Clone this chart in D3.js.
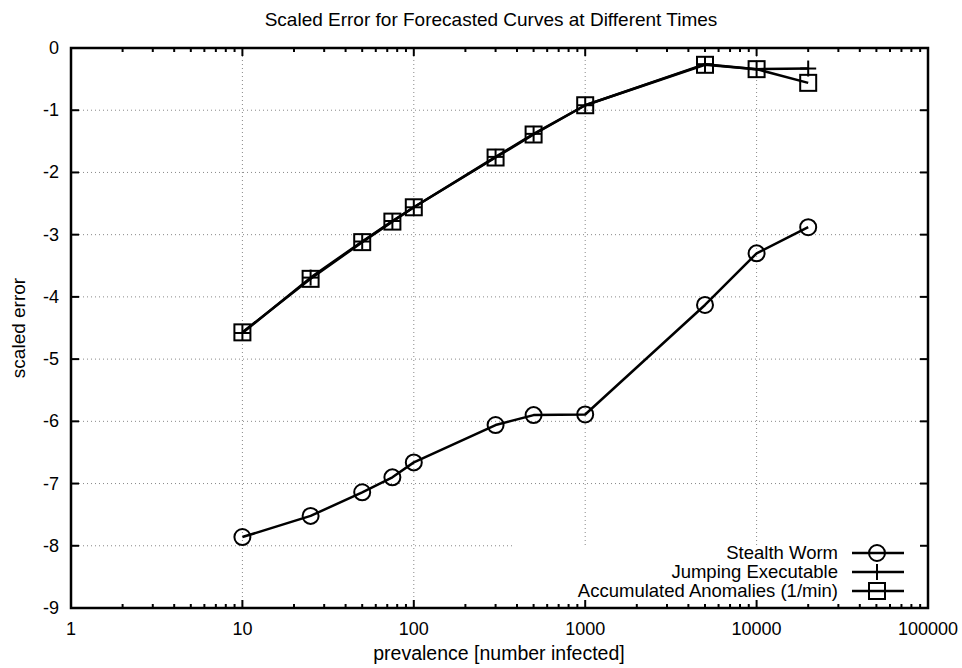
<!DOCTYPE html>
<html>
<head>
<meta charset="utf-8">
<script src="https://cdn.jsdelivr.net/npm/d3@7"></script>
<style>
  body { margin: 0; background: #fff; }
  text { font-family: "Liberation Sans", Arial, sans-serif; }
</style>
</head>
<body>
<div id="chart"></div>
<script>
// data
var prevalence = [10, 25, 50, 75, 100, 300, 500, 1000, 5000, 10000, 20000];
var stealthWorm = [-7.86, -7.52, -7.14, -6.90, -6.66, -6.06, -5.90, -5.89, -4.13, -3.30, -2.88];
var jumpingExec = [-4.58, -3.69, -3.11, -2.78, -2.56, -1.75, -1.38, -0.92, -0.26, -0.34, -0.33];
var accumAnom = [-4.57, -3.71, -3.12, -2.79, -2.56, -1.76, -1.39, -0.92, -0.27, -0.34, -0.56];
var xTicks = [1, 10, 100, 1000, 10000, 100000];
var yTicks = [0, -1, -2, -3, -4, -5, -6, -7, -8, -9];
var seriesNames = ["Stealth Worm", "Jumping Executable", "Accumulated Anomalies (1/min)"];

var W = 962, H = 668;
var margin = {top: 48, right: 34, bottom: 60, left: 71},
    width = W - margin.left - margin.right,
    height = H - margin.top - margin.bottom;

var svg = d3.select("#chart").append("svg")
    .attr("width", W).attr("height", H);
var g = svg.append("g")
    .attr("transform", "translate(" + margin.left + "," + margin.top + ")");

var x = d3.scaleLog().domain([1, 100000]).range([0, width]);
var y = d3.scaleLinear().domain([-9, 0]).range([height, 0]);

// grid (dotted)
var grid = g.append("g").attr("stroke", "#888").attr("stroke-width", 1)
    .attr("stroke-dasharray", "1,3");
xTicks.slice(1, -1).forEach(function(t) {
  grid.append("line").attr("x1", x(t)).attr("x2", x(t))
      .attr("y1", 0).attr("y2", height);
});
yTicks.slice(1, -1).forEach(function(t) {
  grid.append("line").attr("x1", 0).attr("x2", width)
      .attr("y1", y(t)).attr("y2", y(t));
});

// key area is blanked like gnuplot does
var keyLeft = 442, keyTop = 497;
g.append("rect").attr("x", keyLeft).attr("y", keyTop)
  .attr("width", width - keyLeft).attr("height", height - keyTop)
  .attr("fill", "#fff");

// ticks on all four sides
var ticks = g.append("g").attr("stroke", "#000").attr("stroke-width", 2);
var minor = [];
for (var d = 1; d < 100000; d *= 10) {
  for (var k = 2; k <= 9; k++) minor.push(d * k);
}
xTicks.forEach(function(t) {
  ticks.append("line").attr("x1", x(t)).attr("x2", x(t)).attr("y1", height).attr("y2", height - 8);
  ticks.append("line").attr("x1", x(t)).attr("x2", x(t)).attr("y1", 0).attr("y2", 8);
});
minor.forEach(function(t) {
  ticks.append("line").attr("x1", x(t)).attr("x2", x(t)).attr("y1", height).attr("y2", height - 4);
  ticks.append("line").attr("x1", x(t)).attr("x2", x(t)).attr("y1", 0).attr("y2", 4);
});
yTicks.forEach(function(t) {
  ticks.append("line").attr("x1", 0).attr("x2", 8).attr("y1", y(t)).attr("y2", y(t));
  ticks.append("line").attr("x1", width).attr("x2", width - 8).attr("y1", y(t)).attr("y2", y(t));
});

// border
g.append("rect").attr("width", width).attr("height", height)
  .attr("fill", "none").attr("stroke", "#000").attr("stroke-width", 2.5);

// tick labels
g.selectAll(".xl").data(xTicks).enter().append("text")
  .attr("x", function(d) { return x(d); })
  .attr("y", height + 27)
  .attr("text-anchor", "middle").attr("font-size", 18)
  .text(function(d) { return d; });
g.selectAll(".yl").data(yTicks).enter().append("text")
  .attr("x", -12)
  .attr("y", function(d) { return y(d) + 6; })
  .attr("text-anchor", "end").attr("font-size", 18)
  .text(function(d) { return d; });

// titles
svg.append("text").attr("x", 491).attr("y", 26).attr("text-anchor", "middle")
  .attr("font-size", 19).text("Scaled Error for Forecasted Curves at Different Times");
svg.append("text").attr("x", 499).attr("y", 660).attr("text-anchor", "middle")
  .attr("font-size", 19.5).text("prevalence [number infected]");
svg.append("text").attr("transform", "translate(25," + (margin.top + height / 2) + ") rotate(-90)")
  .attr("text-anchor", "middle").attr("font-size", 19).text("scaled error");

// series
var line = d3.line()
  .x(function(d) { return x(d[0]); })
  .y(function(d) { return y(d[1]); });

function pts(vals) { return prevalence.map(function(p, i) { return [p, vals[i]]; }); }

var series = [stealthWorm, jumpingExec, accumAnom];
var marks = ["circle", "plus", "square"];

function drawMark(sel, type, cx, cy) {
  if (type === "circle") {
    sel.append("circle").attr("cx", cx).attr("cy", cy).attr("r", 8)
      .attr("fill", "none").attr("stroke", "#000").attr("stroke-width", 2);
  } else if (type === "plus") {
    sel.append("line").attr("x1", cx - 8).attr("x2", cx + 8).attr("y1", cy).attr("y2", cy)
      .attr("stroke", "#000").attr("stroke-width", 2);
    sel.append("line").attr("x1", cx).attr("x2", cx).attr("y1", cy - 8).attr("y2", cy + 8)
      .attr("stroke", "#000").attr("stroke-width", 2);
  } else {
    sel.append("rect").attr("x", cx - 8).attr("y", cy - 8).attr("width", 16).attr("height", 16)
      .attr("fill", "none").attr("stroke", "#000").attr("stroke-width", 2);
  }
}

series.forEach(function(vals, i) {
  var data = pts(vals);
  g.append("path").datum(data).attr("d", line)
    .attr("fill", "none").attr("stroke", "#000").attr("stroke-width", 2.5)
    .attr("stroke-linejoin", "round");
  var mg = g.append("g");
  data.forEach(function(d) { drawMark(mg, marks[i], x(d[0]), y(d[1])); });
});

// legend
var legend = g.append("g");
seriesNames.forEach(function(name, i) {
  var ly = 505 + i * 19;
  legend.append("text").attr("x", 767).attr("y", ly + 6).attr("text-anchor", "end")
    .attr("font-size", 18.5).text(name);
  legend.append("line").attr("x1", 781).attr("x2", 833).attr("y1", ly).attr("y2", ly)
    .attr("stroke", "#000").attr("stroke-width", 2.5);
  drawMark(legend, marks[i], 806, ly);
});
</script>
</body>
</html>
